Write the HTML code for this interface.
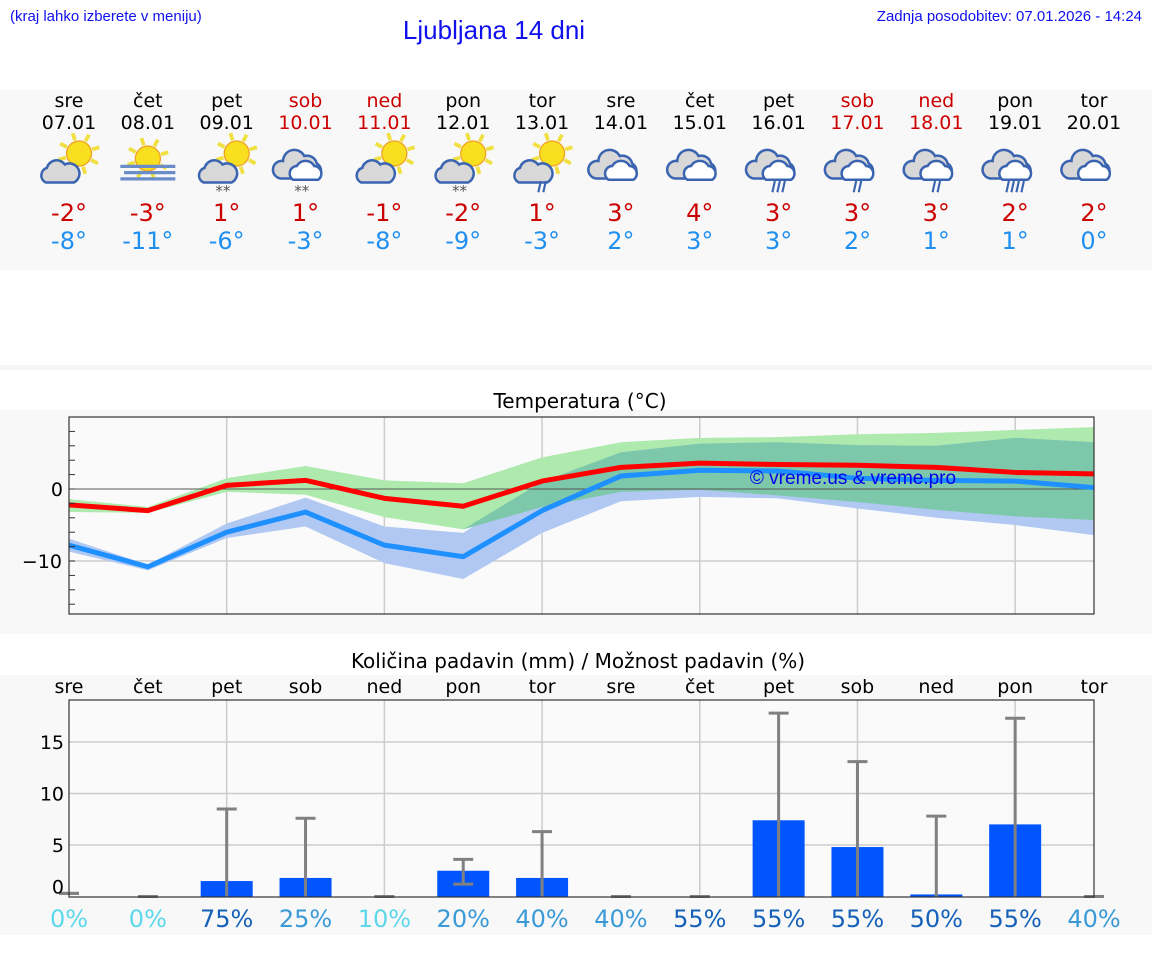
<!DOCTYPE html>
<html><head><meta charset="utf-8"><style>
html,body{margin:0;padding:0;background:#fff;width:1152px;height:975px;overflow:hidden}
svg{display:block;font-family:"DejaVu Sans","Liberation Sans",sans-serif}
.hdr{font-family:"Liberation Sans Narrow","Liberation Sans",sans-serif;fill:#1010ee}
</style></head><body>
<svg id="s" width="1152" height="975" xmlns="http://www.w3.org/2000/svg">
<text class="hdr" x="10" y="21" font-size="15">(kraj lahko izberete v meniju)</text>
<text class="hdr" x="494" y="39" font-size="26" text-anchor="middle">Ljubljana 14 dni</text>
<text class="hdr" x="1142" y="21" font-size="15" text-anchor="end">Zadnja posodobitev: 07.01.2026 - 14:24</text>
<rect x="0" y="90" width="1152" height="180" fill="#f8f8f8"/>
<rect x="0" y="365" width="1152" height="5" fill="#f6f6f6"/>
<rect x="0" y="410" width="1152" height="224" fill="#f8f8f8"/>
<rect x="0" y="675" width="1152" height="260" fill="#f8f8f8"/>
<g id="days"></g>
<text x="580" y="408" font-size="20" text-anchor="middle">Temperatura (°C)</text>
<g id="temp"></g>
<text x="578" y="668" font-size="20" text-anchor="middle">Količina padavin (mm) / Možnost padavin (%)</text>
<g id="prec"></g>
</svg>
<script>
const dayNames=["sre","čet","pet","sob","ned","pon","tor","sre","čet","pet","sob","ned","pon","tor"];
const dates=["07.01","08.01","09.01","10.01","11.01","12.01","13.01","14.01","15.01","16.01","17.01","18.01","19.01","20.01"];
const weekend=[0,0,0,1,1,0,0,0,0,0,1,1,0,0];
const icons=["sc","fog","scs","ccs","sc","scs","scr","cc","cc","ccr3","ccr2","ccr2","ccr4","cc"];
const maxLbl=[-2,-3,1,1,-1,-2,1,3,4,3,3,3,2,2];
const minLbl=[-8,-11,-6,-3,-8,-9,-3,2,3,3,2,1,1,0];
const tMax=[-2.2,-3.0,0.5,1.2,-1.3,-2.4,1.1,3.0,3.6,3.4,3.3,3.0,2.3,2.1];
const tMaxHi=[-1.4,-2.5,1.5,3.2,1.2,0.8,4.4,6.5,7.1,7.2,7.6,7.8,8.2,8.6];
const tMaxLo=[-3.2,-3.3,-0.4,-0.8,-3.9,-5.6,-2.5,-0.4,-0.1,-0.9,-1.8,-2.9,-3.8,-4.3];
const tMin=[-7.8,-10.8,-6.0,-3.2,-7.8,-9.4,-3.0,1.8,2.6,2.5,1.5,1.2,1.1,0.2];
const tMinHi=[-6.9,-10.5,-4.8,-1.2,-5.2,-6.1,1.0,5.1,6.3,6.5,6.1,6.0,7.1,6.5];
const tMinLo=[-8.7,-11.3,-6.8,-5.2,-10.3,-12.5,-6.1,-1.7,-1.1,-1.3,-2.7,-4.0,-5.0,-6.4];
const tTicks=[0,-10];
const rain=[0,0,1.5,1.8,0,2.5,1.8,0,0,7.4,4.8,0.2,7.0,0];
const rainHi=[0.3,0,8.5,7.6,0,3.6,6.3,0,0,17.8,13.1,7.8,17.3,0];
const rainLo=[0.3,0,0,0,0,1.2,0,0,0,0,0,0,0,0];
const chance=[0,0,75,25,10,20,40,40,55,55,55,50,55,40];
const pTicks=[15,10,5,0];
const NS="http://www.w3.org/2000/svg";
function mk(p,t,a){const e=document.createElementNS(NS,t);for(const k in a)e.setAttribute(k,a[k]);p.appendChild(e);return e;}
const X=i=>69+i*(1025/13);
const TY=v=>489-v*7.2;
const PY=v=>896.5-v*10.3;
const D=document.getElementById('days');
function cloud(g,cx,cy,s){
  mk(g,'path',{d:`M${cx-14*s} ${cy+8*s} a${7*s} ${7*s} 0 0 1 ${1*s} ${-13*s} a${9*s} ${9*s} 0 0 1 ${16*s} ${-3*s} a${7*s} ${7*s} 0 0 1 ${8*s} ${16*s} z`,fill:'#d8d8d8',stroke:'#3a64b0','stroke-width':2});
}
function sun(g,cx,cy){
  for(let k=0;k<8;k++){const a=k*Math.PI/4-0.3;mk(g,'line',{x1:cx+Math.cos(a)*11,y1:cy+Math.sin(a)*11,x2:cx+Math.cos(a)*17,y2:cy+Math.sin(a)*17,stroke:'#f0e040','stroke-width':3});}
  mk(g,'circle',{cx:cx,cy:cy,r:10,fill:'#f8e020',stroke:'#f0a020','stroke-width':1});
}
function dbl(g,cx,cy){
  mk(g,'path',{d:`M${cx-20} ${cy+10} a7 7 0 0 1 2 -14 a9 9 0 0 1 17 -4 a8 8 0 0 1 10 6 a7 7 0 0 1 0 12 z`,fill:'#d8d8d8',stroke:'#3a64b0','stroke-width':2});
  mk(g,'path',{d:`M${cx-10} ${cy+11} a6 6 0 0 1 3 -11 a8 8 0 0 1 14 0 a6 6 0 0 1 3 11 z`,fill:'#fff',stroke:'#3a64b0','stroke-width':2});
}
for(let i=0;i<14;i++){
  const x=X(i);
  const c=weekend[i]?'#cc0000':'#000';
  let t=mk(D,'text',{x:x,y:107,'font-size':19,'text-anchor':'middle',fill:c});t.textContent=dayNames[i];
  
  
  t=mk(D,'text',{x:x,y:129,'font-size':19,'text-anchor':'middle',fill:c});t.textContent=dates[i];
  
  
  const g=mk(D,'g',{transform:`translate(${x} 166) scale(1.25) translate(${-x} -166)`});
  
  
  const ic=icons[i];
  if(ic[0]=='s'||ic=='fog'){sun(g,ic=='fog'?x:x+8,ic=='fog'?160:156);}
  if(ic=='fog'){for(let k=0;k<3;k++)mk(g,'rect',{x:x-22+(k==1?3:0),y:165+k*5,width:44-(k==1?3:0),height:2.6,fill:'#6a8cc8'});}
  else if(ic[0]=='s'){cloud(g,x-6,172,0.9);}
  else {dbl(g,x,166);}
  if(ic.endsWith('s')){let a=mk(g,'text',{x:x-9,y:190,'font-size':12,fill:'#555'});a.textContent='**';}
  if(ic.indexOf('r')>0){const n=ic=='scr'?2:+ic.slice(-1);for(let k=0;k<n;k++){const rx=x-4*n/2+k*4+2;mk(g,'line',{x1:rx+1,y1:178,x2:rx-1,y2:187,stroke:'#3a64b0','stroke-width':1.7});}}
  t=mk(D,'text',{x:x,y:221,'font-size':24,'text-anchor':'middle',fill:'#cc0000'});t.textContent=maxLbl[i]+'°';
  
  
  t=mk(D,'text',{x:x,y:249,'font-size':24,'text-anchor':'middle',fill:'#2090f0'});t.textContent=minLbl[i]+'°';
  
  
}
const T=document.getElementById('temp');
mk(T,'rect',{x:69,y:417,width:1025,height:197,fill:'#fafafa'});
for(let i=2;i<14;i+=2)mk(T,'line',{x1:X(i),y1:417,x2:X(i),y2:614,stroke:'#ccc','stroke-width':1.5});
mk(T,'line',{x1:69,y1:TY(-10),x2:1094,y2:TY(-10),stroke:'#ccc','stroke-width':1.5});
function band(lo,hi,fill,name){
  let d='M'+lo.map((v,i)=>X(i)+' '+TY(hi[i])).join(' L')+' L'+lo.map((v,i)=>X(13-i)+' '+TY(lo[13-i])).join(' L')+' Z';
  const p=mk(T,'path',{d:d,fill:fill});
  
  
}
band(tMaxLo,tMaxHi,'#aeeaae','max-temp-range');
band(tMinLo,tMinHi,'#b0c8f2','min-temp-range');
const ovLo=tMaxLo.map((v,i)=>Math.max(v,tMinLo[i]));
const ovHi=tMaxHi.map((v,i)=>Math.max(Math.min(v,tMinHi[i]),ovLo[i]));
band(ovLo,ovHi,'#7dc8aa','range-overlap');
mk(T,'line',{x1:69,y1:TY(0),x2:1094,y2:TY(0),stroke:'#555','stroke-width':1});
function line(v,c,name){const p=mk(T,'polyline',{points:v.map((y,i)=>X(i)+','+TY(y)).join(' '),fill:'none',stroke:c,'stroke-width':5,'stroke-linejoin':'round'});
  
  }
line(tMin,'#1e90ff','min-temp-line');
line(tMax,'#ff0000','max-temp-line');
let wm=mk(T,'text',{x:853,y:484,'font-size':19,'text-anchor':'middle',fill:'#0000ee','font-family':'Liberation Sans, sans-serif'});wm.textContent='© vreme.us & vreme.pro';


for(let v=8;v>=-16;v-=2)mk(T,'line',{x1:69,y1:TY(v),x2:75,y2:TY(v),stroke:'#333','stroke-width':1});
tTicks.forEach(v=>{const t=mk(T,'text',{x:v<0?62:63,y:TY(v)+7,'font-size':19,'text-anchor':'end'});t.textContent=v<0?'−'+(-v):v;
  
  });
mk(T,'rect',{x:69,y:417,width:1025,height:197,fill:'none',stroke:'#333','stroke-width':1.2});
const P=document.getElementById('prec');
mk(P,'rect',{x:69,y:700,width:1025,height:197,fill:'#fafafa'});
for(let i=2;i<14;i+=2)mk(P,'line',{x1:X(i),y1:700,x2:X(i),y2:897,stroke:'#ccc','stroke-width':1.5});
[5,10,15].forEach(v=>mk(P,'line',{x1:69,y1:PY(v),x2:1094,y2:PY(v),stroke:'#ccc','stroke-width':1.5}));
const pc=v=>v>=50?'#1560b8':v>=20?'#3a9ad8':'#5cd8ea';
for(let i=0;i<14;i++){
  const x=X(i);
  if(rain[i]>0){const r=mk(P,'rect',{x:x-26,y:PY(rain[i]),width:52,height:PY(0)-PY(rain[i]),fill:'#0055ff'});
    
    }
  const e=mk(P,'g',{stroke:'#808080','stroke-width':3});
  
  
  mk(e,'line',{x1:x,y1:PY(rainLo[i]),x2:x,y2:PY(rainHi[i])});
  mk(e,'line',{x1:x-10,y1:PY(rainHi[i]),x2:x+10,y2:PY(rainHi[i])});
  if(rainLo[i]>0)mk(e,'line',{x1:x-10,y1:PY(rainLo[i]),x2:x+10,y2:PY(rainLo[i])});
  let t=mk(P,'text',{x:x,y:693,'font-size':19,'text-anchor':'middle'});t.textContent=dayNames[i];
  
  
  t=mk(P,'text',{x:x,y:927,'font-size':24,'text-anchor':'middle',fill:pc(chance[i])});t.textContent=chance[i]+'%';
  
  
}
pTicks.forEach(v=>{const t=mk(P,'text',{x:64,y:(v==0?PY(v)-10:PY(v))+7,'font-size':19,'text-anchor':'end'});t.textContent=v;
  
  });
mk(P,'rect',{x:69,y:700,width:1025,height:197,fill:'none',stroke:'#333','stroke-width':1.2});
</script>
</body></html>
